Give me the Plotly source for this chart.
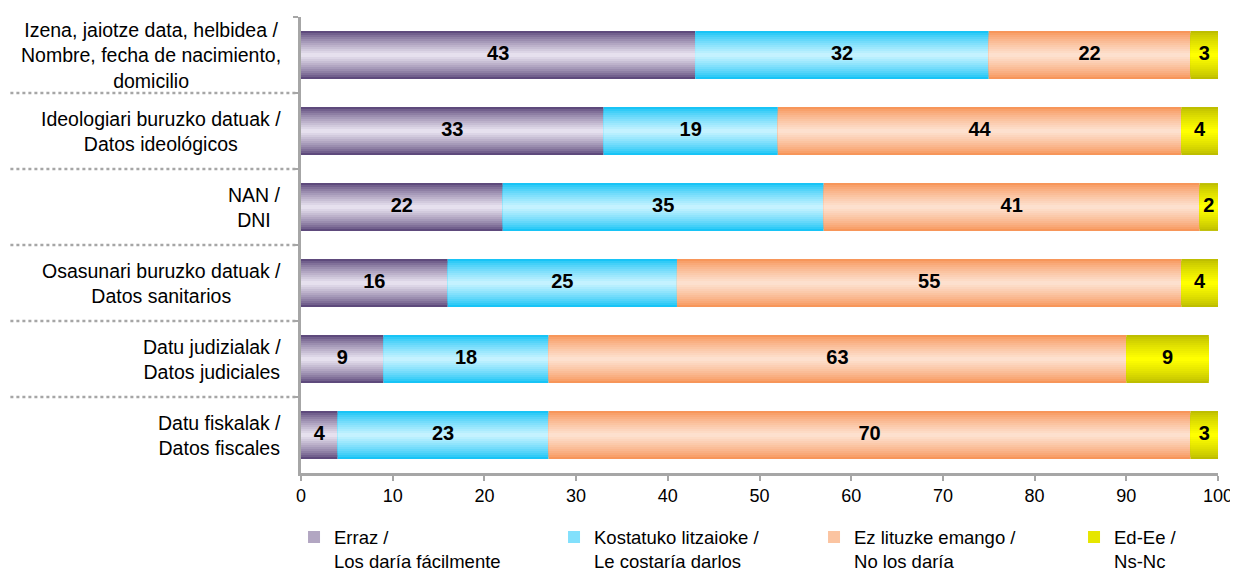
import plotly.graph_objects as go

categories = [
    "Izena, jaiotze data, helbidea /<br>Nombre, fecha de nacimiento,<br>domicilio",
    "Ideologiari buruzko datuak /<br>Datos ideológicos",
    "NAN /<br>DNI",
    "Osasunari buruzko datuak /<br>Datos sanitarios",
    "Datu judizialak /<br>Datos judiciales",
    "Datu fiskalak /<br>Datos fiscales",
]
series_names = [
    "Erraz /<br>Los daría fácilmente",
    "Kostatuko litzaioke /<br>Le costaría darlos",
    "Ez lituzke emango /<br>No los daría",
    "Ed-Ee /<br>Ns-Nc",
]
erraz = [43, 33, 22, 16, 9, 4]
kostatuko = [32, 19, 35, 25, 18, 23]
ez_emango = [22, 44, 41, 55, 63, 70]
ed_ee = [3, 4, 2, 4, 9, 3]
series_values = [erraz, kostatuko, ez_emango, ed_ee]

# gradient edge (dark) and center (light) colours per series
edge_colors = [(94, 74, 124), (24, 196, 246), (247, 150, 90), (190, 190, 0)]
center_colors = [(230, 224, 238), (196, 242, 255), (253, 224, 206), (255, 255, 0)]

BAR_W = 0.63
N_LAYERS = 12
FONT = "Liberation Sans, Arial"


def mix(c1, c2, t):
    return "rgb({},{},{})".format(*[round(a + (b - a) * t) for a, b in zip(c1, c2)])


fig = go.Figure()

bases = [0] * len(categories)
for si, (name, vals) in enumerate(zip(series_names, series_values)):
    for k in range(N_LAYERS):
        t = k / (N_LAYERS - 1)
        w = BAR_W * (1 - k / N_LAYERS)
        fig.add_trace(go.Bar(
            y=categories, x=vals, base=list(bases), orientation="h",
            width=w,
            marker=dict(color=mix(edge_colors[si], center_colors[si], t ** 0.8), line=dict(width=0)),
            name=name, legendgroup=name,
            showlegend=(k == N_LAYERS // 2),
            hoverinfo="skip",
        ))
    # value labels
    fig.add_trace(go.Scatter(
        y=categories, x=[b + v / 2 for b, v in zip(bases, vals)],
        mode="text", text=[str(v) for v in vals],
        textfont=dict(family=FONT, size=20, color="#000000", weight="bold"),
        showlegend=False, hoverinfo="skip",
    ))
    bases = [b + v for b, v in zip(bases, vals)]

annotations = []
for c in categories:
    annotations.append(dict(
        xref="paper", yref="y", x=-0.0196, y=c, text=c, showarrow=False,
        xanchor="right", yanchor="middle", align="center",
        font=dict(family=FONT, size=19.5, color="#000000"),
    ))

shapes = []
for i in range(1, len(categories)):
    shapes.append(dict(
        type="line", xref="paper", yref="y", x0=-0.33, x1=0, y0=i - 0.5, y1=i - 0.5,
        line=dict(color="#a6a6a6", width=2.5, dash="dot"), layer="below",
    ))

# the page body adds an 8px offset, so the figure is 8px smaller on each axis
fig.update_layout(
    barmode="overlay",
    width=1230, height=564,
    margin=dict(l=293, r=20, t=9, b=99, autoexpand=False),
    plot_bgcolor="white", paper_bgcolor="white",
    font=dict(family=FONT, size=18, color="#000000"),
    xaxis=dict(
        range=[0, 100], dtick=10, showgrid=False, zeroline=False,
        showline=True, linecolor="#a6a6a6", linewidth=2.5,
        ticks="outside", ticklen=5, tickwidth=2, tickcolor="#a6a6a6",
        tickfont=dict(size=18), fixedrange=True,
    ),
    yaxis=dict(
        categoryorder="array", categoryarray=categories,
        range=[5.5, -0.5], showgrid=False, zeroline=False,
        showline=True, linecolor="#a6a6a6", linewidth=2.5,
        ticks="outside", ticklen=5, tickwidth=2, tickcolor="#a6a6a6",
        tickson="boundaries", showticklabels=False,
    ),
    legend=dict(
        orientation="h", x=-0.0076, xanchor="left", y=-0.10, yanchor="top",
        entrywidth=215, valign="top", traceorder="normal",
        font=dict(size=18.5),
    ),
    annotations=annotations,
    shapes=shapes,
    showlegend=True,
)

fig.write_html("out.html")
